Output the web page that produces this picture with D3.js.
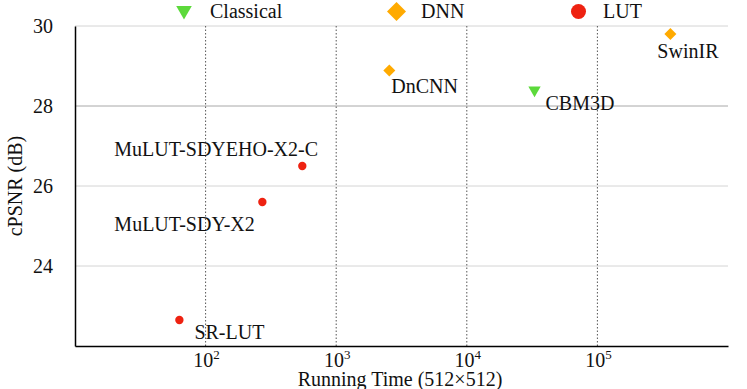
<!DOCTYPE html>
<html>
<head>
  <meta charset="utf-8">
  <style>
    body { margin: 0; background: #fff; }
    text { font-family: "Liberation Serif", "Times New Roman", serif; fill: #111; }
  </style>
</head>
<body>
  <script src="https://cdn.jsdelivr.net/npm/d3@7"></script>
  <script>
    var width = 747;
    var height = 389;

    // data
    var methods   = ["SR-LUT", "MuLUT-SDY-X2", "MuLUT-SDYEHO-X2-C", "DnCNN", "CBM3D", "SwinIR"];
    var groups    = ["LUT", "LUT", "LUT", "DNN", "Classical", "DNN"];
    var runTimes  = [63, 272, 550, 2550, 33000, 362000];
    var psnrs     = [22.65, 25.6, 26.5, 28.89, 28.4, 29.8];
    var legendNames = ["Classical", "DNN", "LUT"];
    var yTicks    = [24, 26, 28, 30];
    var xTicks    = [1e2, 1e3, 1e4, 1e5];

    var colors = { Classical: "#5cd93b", DNN: "#ffaa00", LUT: "#ee2211" };
    // label offsets (dx, dy of baseline start from point)
    var labelPos = {
      "SR-LUT": [15, 19],
      "MuLUT-SDY-X2": [-148, 29],
      "MuLUT-SDYEHO-X2-C": [-188, -10],
      "DnCNN": [2, 23],
      "CBM3D": [11, 20],
      "SwinIR": [-13, 24]
    };

    var margin = { left: 75, right: 19, top: 26, bottom: 43 };

    var x = d3.scaleLog().domain([10, 1e6]).range([margin.left, width - margin.right]);
    var y = d3.scaleLinear().domain([22, 30]).range([height - margin.bottom, margin.top]);

    var svg = d3.select("body").append("svg")
      .attr("width", width)
      .attr("height", height);

    // horizontal grid
    svg.append("g").selectAll("line")
      .data(yTicks)
      .enter().append("line")
      .attr("x1", margin.left)
      .attr("x2", width - margin.right)
      .attr("y1", function(d) { return y(d); })
      .attr("y2", function(d) { return y(d); })
      .attr("stroke", function(d) { return d == 28 ? "#a8a8a8" : "#d4d4d4"; })
      .attr("stroke-width", 1);

    // vertical dotted grid
    svg.append("g").selectAll("line")
      .data(xTicks)
      .enter().append("line")
      .attr("x1", function(d) { return x(d); })
      .attr("x2", function(d) { return x(d); })
      .attr("y1", margin.top)
      .attr("y2", height - margin.bottom)
      .attr("stroke", "#555")
      .attr("stroke-width", 1)
      .attr("stroke-dasharray", "1.5,2");

    // axes
    var xAxis = d3.axisBottom(x).tickValues(xTicks).tickSize(0).tickFormat("");
    var yAxis = d3.axisLeft(y).tickValues(yTicks).tickSize(0).tickFormat("");

    svg.append("g")
      .attr("transform", "translate(0," + (height - margin.bottom) + ")")
      .call(xAxis)
      .select(".domain").attr("stroke", "#000").attr("stroke-width", 1.5);

    svg.append("g")
      .attr("transform", "translate(" + margin.left + ",0)")
      .call(yAxis)
      .select(".domain").attr("stroke", "#000").attr("stroke-width", 1.5);

    // x tick labels 10^n
    var xl = svg.append("g").selectAll("text")
      .data(xTicks)
      .enter().append("text")
      .attr("x", function(d) { return x(d) + 1; })
      .attr("y", height - margin.bottom + 21)
      .attr("text-anchor", "middle")
      .style("font-size", "20px");
    xl.append("tspan").text("10");
    xl.append("tspan")
      .attr("dy", -8)
      .style("font-size", "13px")
      .text(function(d) { return Math.round(Math.log10(d)); });

    // y tick labels
    svg.append("g").selectAll("text")
      .data(yTicks)
      .enter().append("text")
      .attr("x", margin.left - 22)
      .attr("y", function(d) { return y(d) + 7; })
      .attr("text-anchor", "end")
      .style("font-size", "20px")
      .text(function(d) { return d; });

    // axis titles
    svg.append("text")
      .attr("x", 400)
      .attr("y", 386)
      .attr("text-anchor", "middle")
      .style("font-size", "20px")
      .text("Running Time (512×512)");

    svg.append("text")
      .attr("transform", "translate(22," + y(26) + ") rotate(-90)")
      .attr("text-anchor", "middle")
      .style("font-size", "20px")
      .text("cPSNR (dB)");

    // markers
    function drawMarker(sel, group, size) {
      var type = group == "Classical" ? d3.symbolTriangle : (group == "DNN" ? d3.symbolSquare : d3.symbolCircle);
      sel.append("path")
        .attr("d", d3.symbol().type(type).size(size))
        .attr("transform", group == "Classical" ? "rotate(180)" : (group == "DNN" ? "rotate(45)" : null))
        .attr("fill", colors[group]);
    }

    var pts = svg.append("g").selectAll("g")
      .data(methods)
      .enter().append("g")
      .attr("transform", function(d, i) { return "translate(" + x(runTimes[i]) + "," + y(psnrs[i]) + ")"; });
    pts.each(function(d, i) {
      var g = d3.select(this);
      var s = groups[i] == "LUT" ? 55 : (groups[i] == "DNN" ? 72 : 66);
      drawMarker(g, groups[i], s);
      g.append("text")
        .attr("x", labelPos[d][0])
        .attr("y", labelPos[d][1])
        .style("font-size", "20px")
        .text(d);
    });

    // legend
    var legendX = [184, 396.5, 578.5];
    var leg = svg.append("g").selectAll("g")
      .data(legendNames)
      .enter().append("g")
      .attr("transform", function(d, i) { return "translate(" + legendX[i] + "," + (i == 0 ? 10.5 : 11.5) + ")"; });
    leg.each(function(d, i) {
      var g = d3.select(this);
      drawMarker(g, d, d == "LUT" ? 177 : (d == "DNN" ? 180 : 105));
      g.append("text")
        .attr("x", i == 0 ? 26 : 24.5)
        .attr("y", i == 0 ? 7.5 : 6.5)
        .style("font-size", "20px")
        .text(d);
    });
  </script>
</body>
</html>
